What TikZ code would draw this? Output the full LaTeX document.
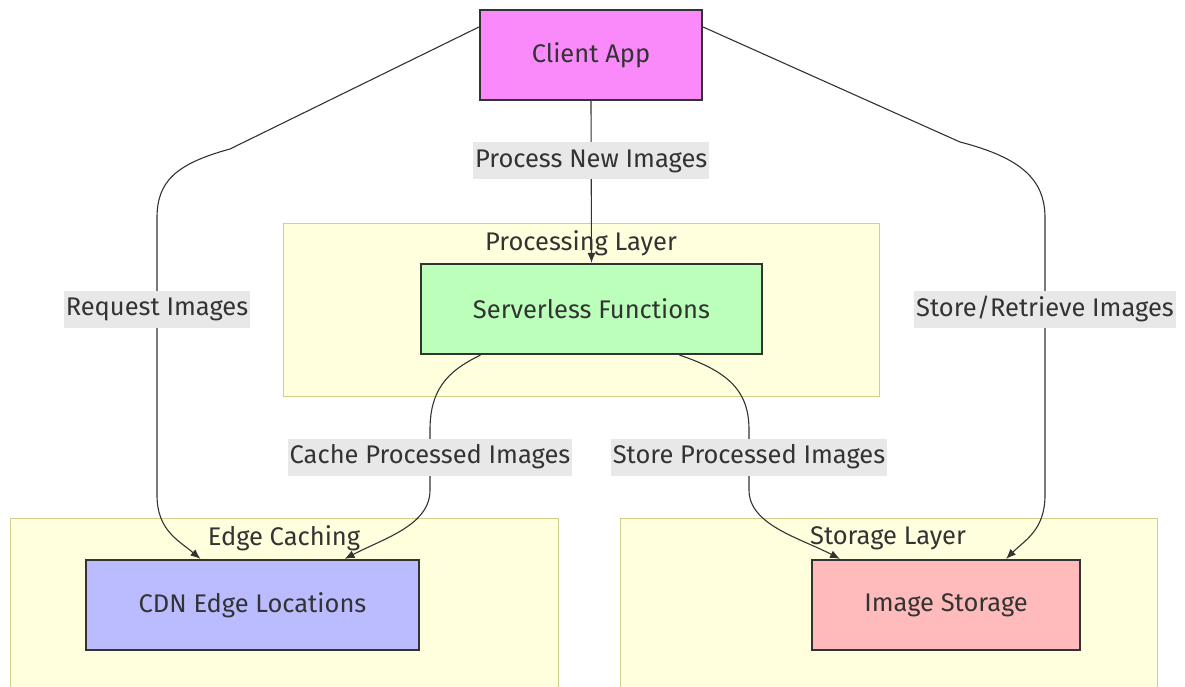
\documentclass[tikz,border=0pt]{standalone}
\usepackage{fontspec}
\setmainfont{Fira Sans}
\usetikzlibrary{arrows.meta}
\definecolor{grp}{HTML}{FFFFDE}
\definecolor{grpline}{HTML}{CFCF8C}
\definecolor{nodeline}{HTML}{333333}
\definecolor{lbl}{HTML}{E8E8E8}
\definecolor{txt}{HTML}{333333}
\tikzset{
  myfont/.style={font=\fontsize{25.5}{30}\selectfont},
  box/.style={draw=nodeline, line width=2.2pt, minimum width=#1, minimum height=90pt, inner sep=0pt, text=txt, myfont},
  group/.style={draw=grpline, fill=grp, line width=1pt},
  gtitle/.style={text=txt, myfont, inner sep=0pt},
  elabel/.style={fill=lbl, text=txt, myfont, inner xsep=2pt, minimum height=37pt},
  conn/.style={draw=nodeline, line width=1.1pt, -{Latex[length=10pt,width=8pt]}},
}
\begin{document}
\begin{tikzpicture}[x=1pt,y=-1pt]
\useasboundingbox (0,0) rectangle (1185,686);
\clip (0,0) rectangle (1185,686);
\fill[white] (0,0) rectangle (1185,686);
% groups
\draw[group] (283,223) rectangle (879,396);
\draw[group] (10,518) rectangle (558,700);
\draw[group] (620,518) rectangle (1157,700);
\node[gtitle] (tproc) at (581,243) {Processing Layer};
\node[gtitle] (tedge) at (284,538) {Edge Caching};
\node[gtitle] (tstor) at (888,538) {Storage Layer};
% nodes
\node[box=222pt, fill={rgb,255:red,250;green,138;blue,250}] (client) at (591,55) {Client App};
\node[box=341pt, fill={rgb,255:red,187;green,255;blue,187}] (srv) at (591.5,309) {Serverless Functions};
\node[box=333pt, fill={rgb,255:red,187;green,187;blue,255}] (cdn) at (252.5,605) {CDN Edge Locations};
\node[box=268pt, fill={rgb,255:red,255;green,187;blue,187}] (sto) at (946,605) {Image Storage};
% connectors
\draw[conn] (client.south) -- (srv.north)
  node[elabel, pos=0.37] (l1) {Process New Images};
\draw[conn] ([yshift=28pt]client.west) -- (230,149)
  .. controls (175,164) and (157,182) .. (157,218) -- (157,495)
  .. controls (157,530) and (178,540) .. ([xshift=-52pt]cdn.north);
\node[elabel] (l2) at (157,309) {Request Images};
\draw[conn] ([yshift=28pt]client.east) -- (960,142)
  .. controls (1022,158) and (1045,180) .. (1045,218) -- (1045,495)
  .. controls (1045,530) and (1025,540) .. ([xshift=60pt]sto.north);
\node[elabel] (l3) at (1045,309) {Store/Retrieve Images};
\draw[conn] ([xshift=-111pt]srv.south)
  .. controls (445,372) and (430,392) .. (430,430) -- (430,490)
  .. controls (430,525) and (385,538) .. ([xshift=92pt]cdn.north);
\node[elabel] (l4) at (430,457) {Cache Processed Images};
\draw[conn] ([xshift=88pt]srv.south)
  .. controls (730,372) and (749,392) .. (749,430) -- (749,490)
  .. controls (749,525) and (800,538) .. ([xshift=-106pt]sto.north);
\node[elabel] (l5) at (749,457) {Store Processed Images};
\end{tikzpicture}
\end{document}
